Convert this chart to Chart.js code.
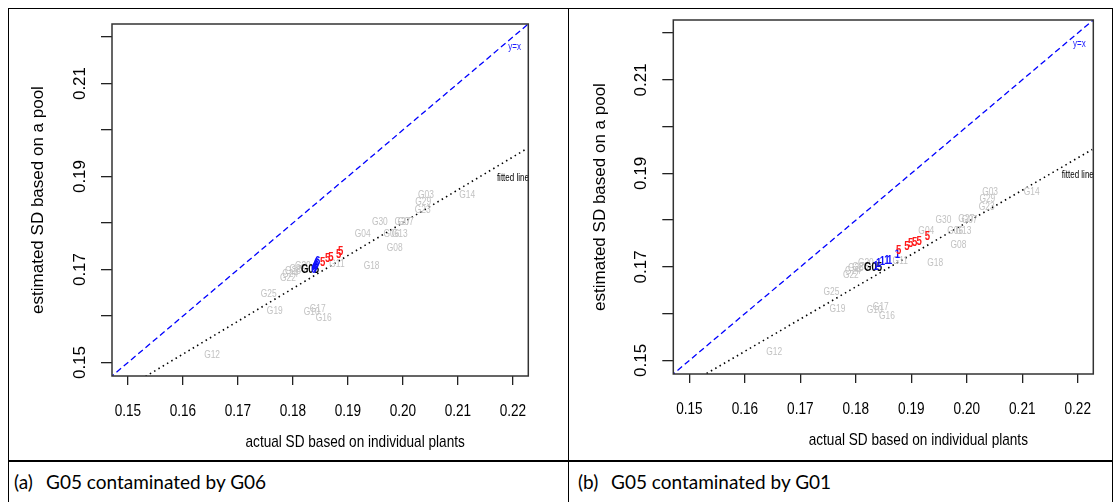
<!DOCTYPE html>
<html>
<head>
<meta charset="utf-8">
<script src="https://cdn.jsdelivr.net/npm/chart.js@4.4.1/dist/chart.umd.min.js"></script>
<style>
  body { margin: 0; background: #fff; width: 1116px; height: 502px; overflow: hidden; position: relative; }
  .line { position: absolute; background: #000; }
  canvas { position: absolute; }
  .cap { position: absolute; top: 470px; font-family: "Lato", "Open Sans", sans-serif; font-size: 19px; color: #000; white-space: nowrap; }
</style>
</head>
<body>
<canvas id="chartA" width="558" height="451" style="left:9px;top:9px"></canvas>
<canvas id="chartB" width="542" height="451" style="left:569px;top:9px"></canvas>

<!-- table borders -->
<div class="line" style="left:8px;top:8px;width:1105px;height:1px"></div>
<div class="line" style="left:8px;top:8px;width:1px;height:494px"></div>
<div class="line" style="left:568px;top:8px;width:1px;height:494px"></div>
<div class="line" style="left:1112px;top:8px;width:1px;height:494px"></div>
<div class="line" style="left:8px;top:460px;width:1105px;height:2px"></div>

<div class="cap" style="left:14px">(a)</div>
<div class="cap" style="left:46px">G05 contaminated by G06</div>
<div class="cap" style="left:578px">(b)</div>
<div class="cap" style="left:611px">G05 contaminated by G01</div>

<script>
"use strict";
//------------------------- axes ---------------------------------------
const axisMin = 0.1471;
const axisMax = 0.2228;
const xTicks = [0.15, 0.16, 0.17, 0.18, 0.19, 0.20, 0.21, 0.22];
const xTickLabels = ["0.15", "0.16", "0.17", "0.18", "0.19", "0.20", "0.21", "0.22"];
const yTicks = [0.15, 0.16, 0.17, 0.18, 0.19, 0.20, 0.21, 0.22];
const yTickLabels = ["0.15", "", "0.17", "", "0.19", "", "0.21", ""];

//------------------------- other genotypes (grey, same in both panels) ----
const genoNames = ["G12", "G19", "G25", "G10", "G17", "G16", "G22", "G24", "G28", "G26", "G20", "G11",
  "G18", "G04", "G08", "G30", "G06", "G13", "G27", "G07", "G23", "G29", "G03", "G14"];
const genoActual = [0.1653, 0.1767, 0.1756, 0.1834, 0.1845, 0.1856, 0.1791, 0.1795, 0.1800, 0.1808, 0.1818, 0.1880,
  0.1943, 0.1927, 0.1985, 0.1958, 0.1979, 0.1994, 0.1999, 0.2005, 0.2036, 0.2037, 0.2042, 0.2117];
const genoPool = [0.1517, 0.1610, 0.1647, 0.1608, 0.1615, 0.1595, 0.1682, 0.1690, 0.1697, 0.1700, 0.1708, 0.1712,
  0.1708, 0.1777, 0.1747, 0.1801, 0.1777, 0.1777, 0.1803, 0.1801, 0.1827, 0.1844, 0.1859, 0.1859];

//------------------------- G05 itself (black) ---------------------------
const targetName = ["G05"];
const targetActual = [0.1831];
const targetPool = [0.1699];

//------------------------- panel (a): G05 contaminated by G06 -------------
const redA_actual = [0.1854, 0.1863, 0.1869, 0.1883, 0.1887];
const redA_pool = [0.1714, 0.1723, 0.1725, 0.1732, 0.1738];
const blueA_actual = [0.1838, 0.1840, 0.1842, 0.1843, 0.1845];
const blueA_pool = [0.1699, 0.1703, 0.1708, 0.1712, 0.1716];
const fitA_x = [0.1532, 0.2224];
const fitA_y = [0.1470, 0.1959];

//------------------------- panel (b): G05 contaminated by G01 -------------
const redB_actual = [0.1877, 0.1892, 0.1899, 0.1906, 0.1914, 0.1929];
const redB_pool = [0.1735, 0.1744, 0.1750, 0.1752, 0.1754, 0.1765];
const blueB_actual = [0.1836, 0.1841, 0.1848, 0.1856, 0.1861, 0.1875];
const blueB_pool = [0.1701, 0.1707, 0.1711, 0.1714, 0.1714, 0.1726];
const fitB_x = [0.1531, 0.2226];
const fitB_y = [0.1472, 0.1951];

//------------------------- reference line y = x and its notes ------------
const idLine = [0.14, 0.23];
const noteIdX = [0.2203];
const noteIdY = [0.2177];
const noteFitX = [0.2200];
const noteFitY = [0.1896];

const sans = "'Liberation Sans', Arial, sans-serif";
// the figure is squeezed sideways, so horizontal text is drawn narrower
const squeeze = 0.8;

function pts(xs, ys) {
  return xs.map((x, i) => ({ x: x, y: ys[i] }));
}

function squeezedText(ctx, text, x, y) {
  ctx.save();
  ctx.scale(squeeze, 1);
  ctx.fillText(text, x / squeeze, y);
  ctx.restore();
}

//------------------------- plugins ---------------------------------------
// draws each point of a dataset as a text label
const textLabels = {
  id: "textLabels",
  afterDatasetsDraw(chart) {
    let ctx = chart.ctx;
    chart.data.datasets.forEach((ds, i) => {
      if (!ds.labels) return;
      let meta = chart.getDatasetMeta(i);
      ctx.save();
      ctx.font = ds.labelFont;
      ctx.fillStyle = ds.labelColor;
      ctx.textAlign = "center";
      ctx.textBaseline = "middle";
      meta.data.forEach((el, j) => squeezedText(ctx, ds.labels[j], el.x, el.y));
      ctx.restore();
    });
  }
};

// R style box round the plot, x tick labels and x axis title
const plotBox = {
  id: "plotBox",
  afterDraw(chart, args, opts) {
    let ctx = chart.ctx;
    let a = chart.chartArea;
    let xScale = chart.scales.x;
    ctx.save();
    ctx.strokeStyle = "#333";
    ctx.lineWidth = 1.5;
    ctx.strokeRect(a.left, a.top, a.right - a.left, a.bottom - a.top);
    ctx.fillStyle = "#000";
    ctx.font = "17px " + sans;
    ctx.textAlign = "center";
    ctx.textBaseline = "middle";
    xScale.ticks.forEach((t, i) => {
      squeezedText(ctx, xTickLabels[i], xScale.getPixelForValue(t.value), a.bottom + opts.tickDrop);
    });
    squeezedText(ctx, opts.xTitle, (a.left + a.right) / 2 + opts.shift, a.bottom + opts.titleDrop);
    ctx.restore();
  }
};

function makeChart(id, red, blue, blueText, fit, box) {
  let small = "10.5px " + sans;
  let datasets = [
    { data: pts(idLine, idLine), showLine: true, borderColor: "#0000ff", borderWidth: 1.3, borderDash: [6, 3.5], pointRadius: 0 },
    { data: fit, showLine: true, borderColor: "#000", borderWidth: 1.6, borderDash: [1.5, 3.5], pointRadius: 0 },
    { data: pts(genoActual, genoPool), pointRadius: 0, labels: genoNames, labelColor: "#c2c2c2", labelFont: small },
    { data: pts(targetActual, targetPool), pointRadius: 0, labels: targetName, labelColor: "#000", labelFont: "bold 12px " + sans },
    { data: blue, pointRadius: 0, labels: blue.map(() => blueText), labelColor: "#1010ff", labelFont: "bold 12px " + sans },
    { data: red, pointRadius: 0, labels: red.map(() => "5"), labelColor: "#ff1a1a", labelFont: "bold 12px " + sans },
    { data: pts(noteIdX, noteIdY), pointRadius: 0, labels: ["y=x"], labelColor: "#2020ff", labelFont: "10px " + sans },
    { data: pts(noteFitX, noteFitY), pointRadius: 0, labels: ["fitted line"], labelColor: "#000", labelFont: "10px " + sans }
  ];

  return new Chart(document.getElementById(id), {
    type: "scatter",
    data: { datasets: datasets },
    plugins: [textLabels, plotBox],
    options: {
      responsive: false,
      animation: false,
      layout: { padding: { left: 0, top: box.top, right: box.right, bottom: 0 } },
      plugins: {
        legend: { display: false },
        tooltip: { enabled: false },
        plotBox: { xTitle: "actual SD based on individual plants", shift: 35, tickDrop: 35, titleDrop: 66 }
      },
      scales: {
        x: {
          type: "linear",
          min: axisMin,
          max: axisMax,
          afterBuildTicks: s => { s.ticks = xTicks.map(v => ({ value: v })); },
          ticks: {
            callback: (v, i) => xTickLabels[i],
            autoSkip: false,
            maxRotation: 0,
            color: "rgba(0,0,0,0)",
            font: { family: sans, size: 17 }
          },
          grid: { drawOnChartArea: false, tickLength: 9, color: "#222", lineWidth: 1.3 },
          border: { display: false },
          afterFit: s => { s.height = box.xh; s.paddingLeft = 0; s.paddingRight = 0; }
        },
        y: {
          type: "linear",
          min: axisMin,
          max: axisMax,
          afterBuildTicks: s => { s.ticks = yTicks.map(v => ({ value: v })); },
          ticks: {
            callback: (v, i) => yTickLabels[i],
            autoSkip: false,
            minRotation: 90,
            maxRotation: 90,
            crossAlign: "center",
            padding: 4,
            color: "#000",
            font: { family: sans, size: 17 }
          },
          grid: { drawOnChartArea: false, tickLength: 11, color: "#222", lineWidth: 1.3 },
          border: { display: false },
          title: {
            display: true,
            text: "estimated SD based on a pool",
            color: "#000",
            font: { family: sans, size: 17 },
            padding: { top: box.tp, bottom: 0 }
          },
          afterFit: s => { s.width = box.yw; s.paddingTop = 0; s.paddingBottom = 0; }
        }
      }
    }
  });
}

makeChart("chartA", pts(redA_actual, redA_pool), pts(blueA_actual, blueA_pool), "6", pts(fitA_x, fitA_y),
  { top: 15, right: 38.7, xh: 84, yw: 103, tp: 18.8 });
makeChart("chartB", pts(redB_actual, redB_pool), pts(blueB_actual, blueB_pool), "1", pts(fitB_x, fitB_y),
  { top: 11, right: 17.7, xh: 86, yw: 104.3, tp: 20.8 });
</script>
</body>
</html>
